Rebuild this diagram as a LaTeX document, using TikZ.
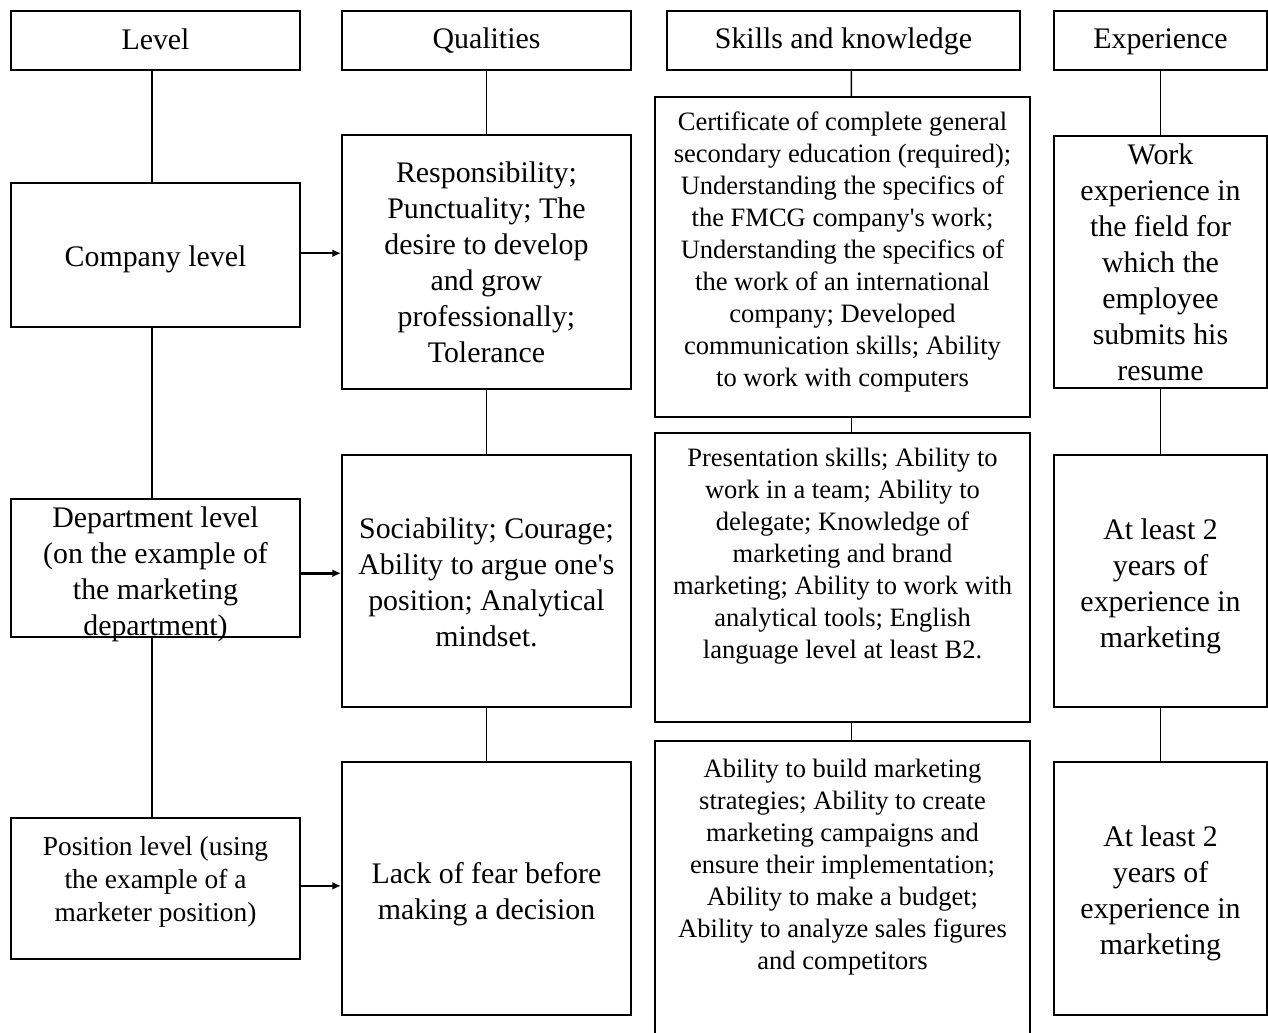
\documentclass[tikz,border=0pt]{standalone}
\usepackage{fontspec}
\setmainfont{Liberation Serif}
\usetikzlibrary{arrows.meta,fit}
\begin{document}
\begin{tikzpicture}[x=0.02cm,y=-0.02cm,
  box/.style={draw, line width=1.05pt, inner sep=0pt},
  big/.style={font=\fontsize{17}{20.5}\selectfont, align=center, inner sep=0pt},
  small/.style={font=\fontsize{15.1}{18.2}\selectfont, align=center, inner sep=0pt},
  mid/.style={font=\fontsize{15.6}{18.8}\selectfont, align=center, inner sep=0pt},
  link/.style={line width=0.9pt},
  arr/.style={line width=1.4pt, -{Latex[length=5pt,width=4.5pt]}}]
\path[use as bounding box, clip] (0,0) rectangle (1268,1032);
\fill[white] (0,0) rectangle (1268,1032);
% boxes
\node[box, fit={(11,11) (300,70)}] (lh) {};
\node[box, fit={(342,11) (631,70)}] (qh) {};
\node[box, fit={(667,11) (1020,70)}] (sh) {};
\node[box, fit={(1054,11) (1267,70)}] (eh) {};
\node[box, fit={(11,183) (300,327)}] (l1) {};
\node[box, fit={(11,499) (300,637)}] (l2) {};
\node[box, fit={(11,818) (300,959)}] (l3) {};
\node[box, fit={(342,135) (631,389)}] (q1) {};
\node[box, fit={(342,455) (631,707)}] (q2) {};
\node[box, fit={(342,762) (631,1015)}] (q3) {};
\node[box, fit={(655,97) (1030,417)}] (s1) {};
\node[box, fit={(655,433) (1030,722)}] (s2) {};
\node[box, fit={(655,741) (1030,1060)}] (s3) {};
\node[box, fit={(1054,136) (1267,388)}] (e1) {};
\node[box, fit={(1054,455) (1267,707)}] (e2) {};
\node[box, fit={(1054,762) (1267,1015)}] (e3) {};
% header texts
\node[big] (lht) at ([yshift=0.5pt]lh.center) {Level};
\node[big] (qht) at ([yshift=0pt]qh.center) {Qualities};
\node[big] (sht) at ([yshift=-0.5pt]sh.center) {Skills and knowledge};
\node[big] (eht) at ([yshift=-1pt]eh.center) {Experience};
% level texts
\node[big] (l1t) at ([yshift=-2.3pt]l1.center) {Company level};
\node[big] (l2t) at ([yshift=-3.8pt]l2.center) {Department level\\(on the example of\\the marketing\\department)};
\node[mid] (l3t) at ([yshift=3.8pt]l3.center) {Position level (using\\the example of a\\marketer position)};
% qualities texts
\node[big] (q1t) at (q1.center) {Responsibility;\\Punctuality; The\\desire to develop\\and grow\\professionally;\\Tolerance};
\node[big] (q2t) at ([yshift=-1pt]q2.center) {Sociability; Courage;\\Ability to argue one\textquotesingle s\\position; Analytical\\mindset.};
\node[big] (q3t) at ([yshift=-3.4pt]q3.center) {Lack of fear before\\making a decision};
% skills texts
\node[small, anchor=north] (s1t) at ([yshift=-9pt]s1.north) {Certificate of complete general\\secondary education (required);\\Understanding the specifics of\\the FMCG company\textquotesingle s work;\\Understanding the specifics of\\the work of an international\\company; Developed\\communication skills; Ability\\to work with computers};
\node[small, anchor=north] (s2t) at ([yshift=-9pt]s2.north) {Presentation skills; Ability to\\work in a team; Ability to\\delegate; Knowledge of\\marketing and brand\\marketing; Ability to work with\\analytical tools; English\\language level at least B2.};
\node[small, anchor=north] (s3t) at ([yshift=-10.6pt]s3.north) {Ability to build marketing\\strategies; Ability to create\\marketing campaigns and\\ensure their implementation;\\Ability to make a budget;\\Ability to analyze sales figures\\and competitors};
% experience texts
\node[big] (e1t) at (e1.center) {Work\\experience in\\the field for\\which the\\employee\\submits his\\resume};
\node[big] (e2t) at ([yshift=-2.8pt]e2.center) {At least 2\\years of\\experience in\\marketing};
\node[big] (e3t) at ([yshift=-2.8pt]e3.center) {At least 2\\years of\\experience in\\marketing};
% vertical links
\draw[link] ([xshift=-2pt]lh.south) -- ([xshift=-2pt]l1.north);
\draw[link] ([xshift=-2pt]l1.south) -- ([xshift=-2pt]l2.north);
\draw[link] ([xshift=-2pt]l2.south) -- ([xshift=-2pt]l3.north);
\draw[link] (qh.south) -- (q1.north);
\draw[link] (q1.south) -- (q2.north);
\draw[link] (q2.south) -- (q3.north);
\draw[link] ([xshift=4.5pt]sh.south) -- ([xshift=5pt]s1.north);
\draw[link] ([xshift=5pt]s1.south) -- ([xshift=5pt]s2.north);
\draw[link] ([xshift=5pt]s2.south) -- ([xshift=5pt]s3.north);
\draw[link] (eh.south) -- (e1.north);
\draw[link] (e1.south) -- (e2.north);
\draw[link] (e2.south) -- (e3.north);
% arrows
\draw[arr] ([yshift=1pt]l1.east) -- ([yshift=1pt]l1.east -| q1.west);
\draw[arr] ([yshift=-3pt]l2.east) -- ([yshift=-3pt]l2.east -| q2.west);
\draw[arr] ([yshift=1.5pt]l3.east) -- ([yshift=1.5pt]l3.east -| q3.west);
\end{tikzpicture}
\end{document}
